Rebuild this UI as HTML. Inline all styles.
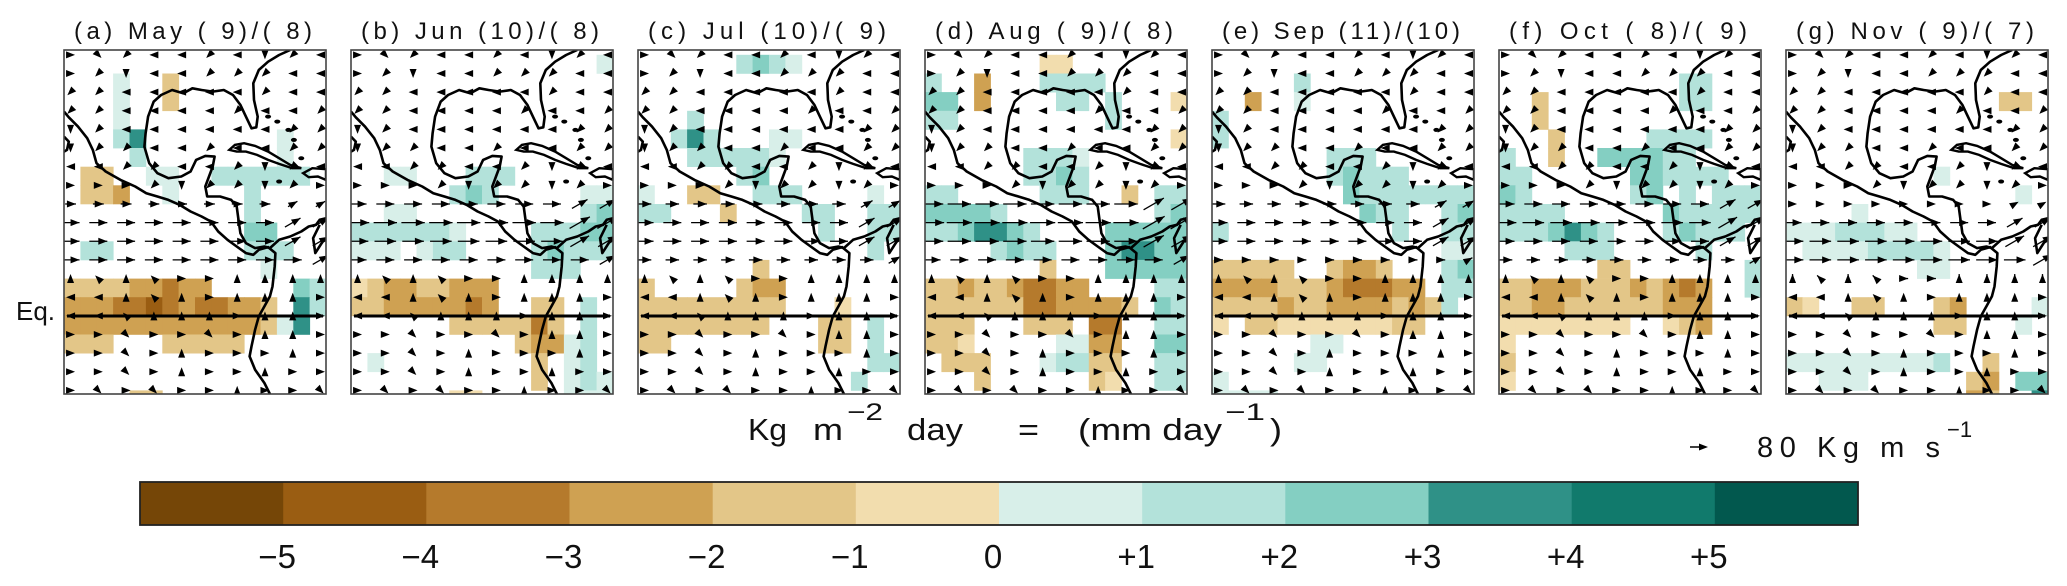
<!DOCTYPE html>
<html><head><meta charset="utf-8"><style>
html,body{margin:0;padding:0;background:#fff;}
svg{display:block;}
text{font-family:"Liberation Sans",sans-serif;fill:#111;}
</style></head><body>
<svg id="fig" width="2067" height="586" viewBox="0 0 2067 586" xmlns="http://www.w3.org/2000/svg">
<g id="panels"></g>
<text x="16" y="320" font-size="26">Eq.</text>
<g id="units">
<text x="748" y="440" font-size="31" textLength="39" lengthAdjust="spacingAndGlyphs">Kg</text>
<text x="813" y="440" font-size="31" textLength="30" lengthAdjust="spacingAndGlyphs">m</text>
<text x="847" y="420" font-size="24" textLength="36" lengthAdjust="spacingAndGlyphs">−2</text>
<text x="907" y="440" font-size="31" textLength="56" lengthAdjust="spacingAndGlyphs">day</text>
<text x="1018" y="440" font-size="31" textLength="21" lengthAdjust="spacingAndGlyphs">=</text>
<text x="1078" y="440" font-size="31" textLength="144" lengthAdjust="spacingAndGlyphs">(mm day</text>
<text x="1225" y="420" font-size="24" textLength="40" lengthAdjust="spacingAndGlyphs">−1</text>
<text x="1270" y="440" font-size="31" textLength="12" lengthAdjust="spacingAndGlyphs">)</text>
</g>
<g id="vector-legend">
<line x1="1690" y1="447" x2="1700" y2="447" stroke="#000" stroke-width="1.5"/>
<polygon points="1708,447 1699,443.5 1699,450.5" fill="#000"/>
<text x="1757" y="457" font-size="29" textLength="183" lengthAdjust="spacing">80 Kg m s</text>
<text x="1947" y="437" font-size="22">−1</text>
</g>
<g id="colorbar"></g>
</svg>
<script>
const titles = ["(a) May ( 9)/( 8)","(b) Jun (10)/( 8)","(c) Jul (10)/( 9)","(d) Aug ( 9)/( 8)","(e) Sep (11)/(10)","(f) Oct ( 8)/( 9)","(g) Nov ( 9)/( 7)"];
const cbColors = ["#754607","#9a5d12","#b57a2c","#cfa152","#e3c688","#f2ddae","#d8efe9","#b3e2da","#84cfc2","#2f9187","#117a6c","#02584e"];
const cbLabels = ["−5","−4","−3","−2","−1","0","+1","+2","+3","+4","+5"];
const levelCodes = "FEDCBA123456";
const cells = [
["................","...1..B.........","...1..B.........","...1............","...24........1..","....2........1..",".BB..11..222222.",".BBC..1....2....","...........2....","...........33...",".22........222..","............1...","BBBBCCDCC.....32","CCCDDEDCDDCCB.42","CCCCCCCCCCCCB14.","BBB...BBBBB.....","................","................","....BB.........."],
["...............1","................","................","................","................","................","..11...222......","......232.....11","..11..........23","2222221....22233","111.122....23222","...........222..","ABCCBBCCC.......","BBCCCCCDC..BB.2.","......BBBBBDB.2.","..........BCC12.",".1.........B.12.","...........B.121","......AA.....111"],
["......2321......","................","................","...2............","..242...11......","...222221.......","......23........","1..BB..222....1.","22...B....22..22","...........2..22","..............2.",".......B........","B.....BCC.......","BBBBBBBBB...A...","BBBBBBBB...BB.2.","BB.........BB.2.","..............22",".............2..","................"],
[".......AA.......","2..C...2222.....","33.C....22.2...A","22.........2....","...............A","......2221......","......2232......","22.....222..B.22","33332.........23","2234432....33333","....2322...34433",".......B...33333","BBCBBCDDCC....22","BBBBBBDDCCCCB.32","BBB...BBB.DD..22","BBA.....11CC..33",".BBB...122BB..22","...B......BA..22","................"],
["................",".....2..........","..C..1..........","2...............","2...............",".......222......",".......23222....","........32222222",".........322..23","2..........2..22","..............11","BBBBB..BCCB...23","CCCCBBBCDDDCC.22","BBBBCBBCCCCBCB2.","A.BBAAAAAAABB...","......11........",".....11.........","1...............","1111............"],
["................","...........22...","..B........22...","..B.............","...B.....2222...","2..B..333322....","22......332222..","32......23.2.222","2222......322222","2223432...23222.","....222.....2...","......BB.......2","BBCCCBBBCBCDC..2","BBCCBBBBBBCCC...","AAAAAAAA..ABC...","A...............","B...............","A...............","................"],
["................","................",".............BB.","................","................","................",".........1......","..............1.","....1...........","11122211........",".111122221......","........11......","................","BA..BB...BC....1",".........BB...1.","................","1111111112..B...","..111......BC.33","...........CB..4"]
];
const arrowDirs = ["ahfeefegfe","afgeefffee","ffeeeeefee","ffeeeefeef","gfeeeeeeff","gffeefeeff","eeffeefgfe","aaafgffgfa","aaaaaaaabb","aaaaaaaabb","aaaaaaaabb","aaaaaaaaab","cdcdaacccc","eecdcaccca","eedcccacca","aahaahacca","aahacaaaca","aahacaacaa","ahahaacaah"];
const bandA = [0,0,0,0,0,0,0,0,1.2,2,2,2,0,0,0,0,0,0,0];
const bandB = [0,0,0,0,0,0,0,0,2,2.6,2.4,2,0,0,0,0,0,0,0];
const bandC = [0,0,0,0,0,0,0,0,1.5,2,2,1.5,0,0,0,0,0,0,0];
const bandD = [0,0,0,0,0,0,0,0,2.6,2.8,2.6,2,0,0,0,0,0,0,0];
const bandE = [0,0,0,0,0,0,0,0,1.5,2,2,1,0,0,0,0,0,0,0];
const bandF = [0,0,0,0,0,0,0,0,2,2.4,2,1.5,0,0,0,0,0,0,0];
const bandG = [0,0,0,0,0,0,0,0,0,2,2.4,2.4,1,0,0,0,0,0,0];
const bands = [bandA,bandB,bandC,bandD,bandE,bandF,bandG];

const NS="http://www.w3.org/2000/svg";
const PX0=64, PITCH=287, PW=262, PY0=50, PH=344, EQ=316;
const ROW0=0.014, ROWH=0.0542, NCOL=16;
function mk(tag, attrs, parent){const e=document.createElementNS(NS,tag);for(const k in attrs)e.setAttribute(k,attrs[k]);parent.appendChild(e);return e;}
function colX(x0,j){return x0+j*PW/NCOL;}
function rowY(k){return PY0+(ROW0+k*ROWH)*PH;}
const coast1=[[47,215],[60,232],[85,260],[110,295],[125,330],[135,370],[160,395],[200,420],[240,440],[270,460],[300,470],[330,480],[360,495],[390,515],[420,530],[445,545],[465,575],[490,600],[515,620],[540,640],[560,645],[575,630],[600,622],[620,640],[618,680],[612,740],[605,770],[590,800],[575,830],[565,870],[555,920],[550,950],[565,990],[590,1030],[605,1063]];
const coast2=[[660,30],[630,45],[600,65],[575,90],[560,130],[562,180],[572,230],[568,262],[555,265],[540,230],[525,195],[505,165],[480,150],[450,155],[420,150],[395,145],[370,160],[340,150],[310,165],[290,185],[275,230],[268,280],[265,320],[278,370],[300,400],[330,415],[365,410],[390,395],[405,360],[430,348],[455,350],[450,380],[440,410],[430,440],[435,470],[470,470],[500,480],[515,500],[520,540],[525,580],[540,610],[565,625],[590,620],[605,625],[630,600],[660,590],[690,575],[710,560],[730,555],[740,540],[757,535]];
const cuba=[[495,330],[510,315],[535,310],[565,318],[600,335],[630,355],[660,375],[690,385],[665,385],[630,372],[600,360],[570,345],[540,335],[515,335],[495,330]];
const hisp=[[695,400],[720,385],[757,388],[757,420],[735,410],[710,412],[695,400]];
const baja=[[47,290],[60,305],[55,330],[47,335]];
const venez=[[740,555],[722,595],[728,640],[748,605],[757,600]];
const dots=[[600,230],[625,245],[655,270],[670,300],[690,355],[630,425]];
function tp(x0,p){return [x0+(p[0]-47)/710*PW, PY0+(p[1]-30)/1033*PH];}
function pathStr(x0,pts){return pts.map((p,i)=>{const q=tp(x0,p);return (i?'L':'M')+q[0].toFixed(1)+','+q[1].toFixed(1);}).join('');}
const angMap={a:0,b:30,c:90,d:135,e:180,f:225,g:270,h:315};

const panels=document.getElementById('panels');
for(let i=0;i<7;i++){
  const x0=PX0+i*PITCH;
  const g=mk('g',{},panels);
  
  
  const cid='clip'+i;
  const cp=mk('clipPath',{id:cid},g);
  mk('rect',{x:x0,y:PY0,width:PW,height:PH},cp);
  const inner=mk('g',{'clip-path':'url(#'+cid+')'},g);
  cells[i].forEach((row,k)=>{
    for(let j=0;j<row.length;j++){
      const ch=row[j]; const lv=levelCodes.indexOf(ch);
      if(lv<0) continue;
      const r=mk('rect',{x:colX(x0,j).toFixed(1),y:rowY(k).toFixed(1),width:(PW/NCOL+0.4).toFixed(1),height:(ROWH*PH+0.4).toFixed(1),fill:cbColors[lv]},inner);
      
      
    }
  });
  [coast1,coast2,baja,venez].forEach(c=>{const p=mk('path',{d:pathStr(x0,c),fill:'none',stroke:'#000','stroke-width':2.6,'stroke-linejoin':'round'},inner);});
  [cuba,hisp].forEach(c=>{const p=mk('path',{d:pathStr(x0,c)+'Z',fill:'none',stroke:'#000','stroke-width':2.4},inner);});
  dots.forEach(d=>{const q=tp(x0,d);mk('ellipse',{cx:q[0],cy:q[1],rx:3,ry:2,fill:'#000'},inner);});
  const band=bands[i];
  arrowDirs.forEach((row,k)=>{
    const y=PY0+(ROW0+k*ROWH)*PH;
    for(let j=0;j<row.length;j++){
      const x=x0+PW*(0.025+0.106*j);
      const L=band[k]*9;
      const th=angMap[row[j]]*Math.PI/180, dx=Math.cos(th), dy=-Math.sin(th);
      const ag=mk('g',{},inner);
      
      
      let hx=x+dx*4.5, hy=y+dy*4.5;
      if(L>0){ const sx=x-dx*L/2, sy=y-dy*L/2; hx=x+dx*L/2; hy=y+dy*L/2;
        mk('line',{x1:sx,y1:sy,x2:hx,y2:hy,stroke:'#000','stroke-width':1.3},ag); }
      const bx=hx-dx*9, by=hy-dy*9, px=-dy*3.5, py=dx*3.5;
      mk('polygon',{points:`${hx},${hy} ${bx+px},${by+py} ${bx-px},${by-py}`,fill:'#000'},ag);
    }
  });
  const eq=mk('line',{x1:x0+3,y1:EQ,x2:x0+PW-3,y2:EQ,stroke:'#000','stroke-width':3},g);
  
  
  const fr=mk('rect',{x:x0,y:PY0,width:PW,height:PH,fill:'none',stroke:'#444','stroke-width':1.6},g);
  
  
  const t=mk('text',{x:x0+10,y:39,'font-size':24,textLength:238,lengthAdjust:'spacing'},g);
  t.setAttribute('style','white-space:pre');
  t.textContent=titles[i];
  
  
}
const cb=document.getElementById('colorbar');
const CBX=140, CBW=1718, CBY=482, CBH=43, SEG=CBW/cbColors.length;
cbColors.forEach((c,i)=>{
  const r=mk('rect',{x:(CBX+i*SEG).toFixed(1),y:CBY,width:(SEG+0.5).toFixed(1),height:CBH,fill:c},cb);
  
  
});
mk('rect',{x:CBX,y:CBY,width:CBW,height:CBH,fill:'none',stroke:'#222','stroke-width':1.8},cb);
cbLabels.forEach((l,i)=>{
  const t=mk('text',{x:(CBX+(i+1)*SEG-6).toFixed(1),y:568,'font-size':33,'text-anchor':'middle'},cb);
  t.textContent=l;
  
  
});
</script>
</body></html>
